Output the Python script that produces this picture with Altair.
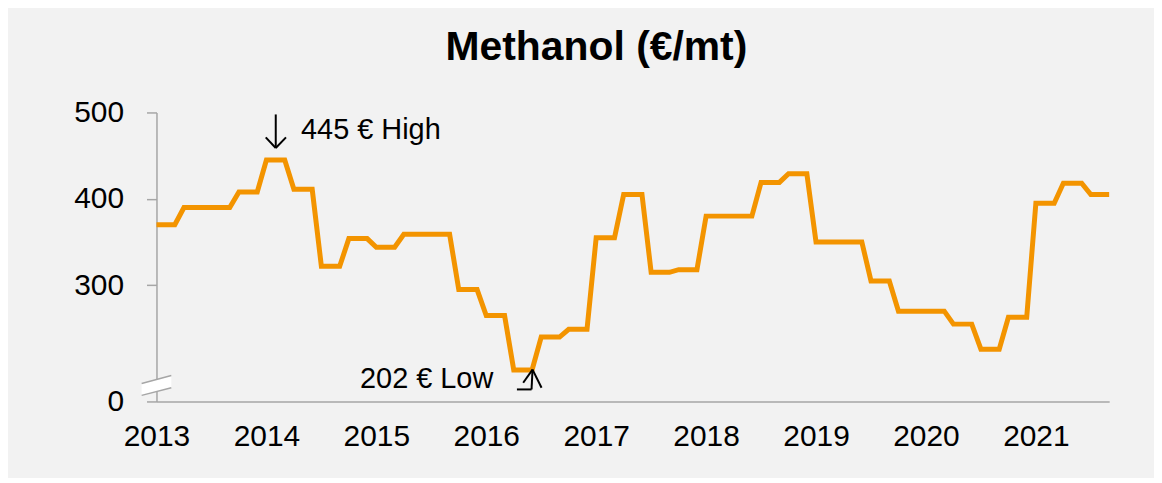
import altair as alt
import pandas as pd

# Quarterly methanol contract price (EUR/mt), 2013 Q1 .. 2021 Q3
quarter_values = [
    370, 390, 390, 408,   # 2013
    445, 411, 322, 354,   # 2014
    344, 359, 359, 295,   # 2015
    265, 202, 240, 249,   # 2016
    355, 405, 315, 318,   # 2017
    380, 380, 419, 429,   # 2018
    350, 350, 305, 270,   # 2019
    270, 255, 226, 263,   # 2020
    395, 418, 405,        # 2021
]
start_year = 2013
year_ticks = [2013, 2014, 2015, 2016, 2017, 2018, 2019, 2020, 2021]
y_ticks = [165.5, 300, 400, 500]

# monthly table: each quarter's price holds for its three months
rows = []
for q, v in enumerate(quarter_values):
    for m in range(3):
        idx = q * 3 + m
        rows.append({"t": start_year + idx / 12.0, "price": v})
df = pd.DataFrame(rows)
x_max = df["t"].max()

hi_df = pd.DataFrame([{"t": 2014.315, "price": 480, "label": "445 € High"}])
lo_df = pd.DataFrame([{"t": 2016.064, "price": 192, "label": "202 € Low"}])

# arrow strokes (data coordinates): high arrow pointing down, low arrow pointing up
arrow_x = [2014.085, 2013.994, 2014.178, 2016.421, 2016.336, 2016.503, 2016.279]
arrow_x2 = [2014.085, 2014.085, 2014.085, 2016.412, 2016.421, 2016.421, 2016.412]
arrow_y = [497.7, 471.2, 471.2, 202.4, 187.1, 181.3, 179.4]
arrow_y2 = [458.8, 458.8, 458.8, 179.4, 202.4, 202.4, 179.4]
arr_df = pd.DataFrame({"x": arrow_x, "x2": arrow_x2, "y": arrow_y, "y2": arrow_y2})

# axis-break symbol (two slanted strokes with a white gap)
brk_x = [2012.865, 2013.135]
brk_upper = [186.3, 195.5]
brk_lower = [172.5, 181.4]
brk_df = pd.DataFrame({"t": brk_x, "up": brk_upper, "lo": brk_lower})

FONT = "Liberation Sans"
xs = alt.Scale(domain=[start_year, x_max], nice=False, zero=False)
ys = alt.Scale(domain=[165.5, 500], nice=False, zero=False)

line = alt.Chart(df).mark_line(color="#F39400", strokeWidth=5).encode(
    x=alt.X("t:Q", scale=xs, title=None,
            axis=alt.Axis(values=year_ticks, format="d", ticks=False, grid=False,
                          labelFontSize=30, labelFont=FONT, labelColor="#000000",
                          labelPadding=20, domainColor="#a6a6a6", domainWidth=1.5,
                          labelFlush=False, labelOverlap=False)),
    y=alt.Y("price:Q", scale=ys, title=None,
            axis=alt.Axis(values=y_ticks, grid=False, tickSize=10,
                          labelExpr="datum.value < 200 ? '0' : format(datum.value, 'd')",
                          labelFontSize=30, labelFont=FONT, labelColor="#000000",
                          labelPadding=23, domainColor="#a6a6a6", tickColor="#a6a6a6",
                          domainWidth=1.5, tickWidth=1.5, labelFlush=False)),
)

brk_fill = alt.Chart(brk_df).mark_area(color="#ffffff", opacity=1).encode(
    x=alt.X("t:Q", scale=xs), y=alt.Y("up:Q", scale=ys), y2="lo:Q")
brk_l1 = alt.Chart(brk_df).mark_line(color="#a6a6a6", strokeWidth=1.5).encode(
    x=alt.X("t:Q", scale=xs), y=alt.Y("up:Q", scale=ys))
brk_l2 = alt.Chart(brk_df).mark_line(color="#a6a6a6", strokeWidth=1.5).encode(
    x=alt.X("t:Q", scale=xs), y=alt.Y("lo:Q", scale=ys))

arrows = alt.Chart(arr_df).mark_rule(color="#000000", strokeWidth=2).encode(
    x=alt.X("x:Q", scale=xs), x2="x2:Q",
    y=alt.Y("y:Q", scale=ys), y2="y2:Q")
hi_text = alt.Chart(hi_df).mark_text(fontSize=29, font=FONT, color="#000000",
                                     align="left", baseline="middle").encode(
    x=alt.X("t:Q", scale=xs), y=alt.Y("price:Q", scale=ys), text="label:N")
lo_text = alt.Chart(lo_df).mark_text(fontSize=29, font=FONT, color="#000000",
                                     align="right", baseline="middle").encode(
    x=alt.X("t:Q", scale=xs), y=alt.Y("price:Q", scale=ys), text="label:N")

chart = alt.layer(line, brk_fill, brk_l1, brk_l2, arrows, hi_text, lo_text).properties(
    width=956, height=290,
    title=alt.TitleParams("Methanol (€/mt)", fontSize=41, font=FONT, fontWeight="bold",
                          color="#000000", anchor="middle", frame="bounds",
                          baseline="alphabetic", offset=-3),
    background="#f2f2f2",
    padding={"left": 149, "top": 104, "right": 45, "bottom": 76},
    autosize=alt.AutoSizeParams(type="none"),
).configure_view(strokeWidth=0)

chart.save("out.html", embed_options={"renderer": "svg", "actions": False})
